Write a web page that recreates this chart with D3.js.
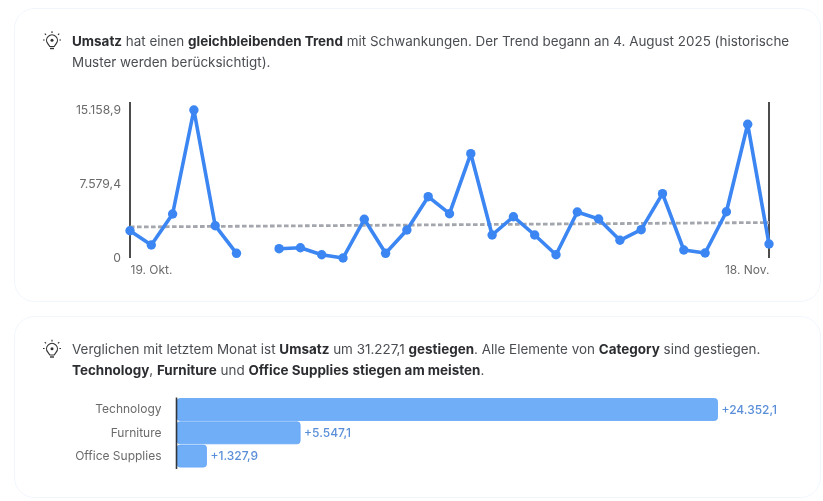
<!DOCTYPE html>
<html>
<head>
<meta charset="utf-8">
<script src="https://cdn.jsdelivr.net/npm/d3@7/dist/d3.min.js"></script>
<style>
html,body{margin:0;padding:0;background:#fff;overflow:hidden}
svg{display:block;font-family:Inter,"Open Sans",sans-serif;filter:blur(.6px)}
</style>
</head>
<body>
<svg id="c" width="823" height="501"></svg>
<script>
const dates = ["2025-10-19","2025-10-20","2025-10-21","2025-10-22","2025-10-23","2025-10-24","2025-10-25","2025-10-26","2025-10-27","2025-10-28","2025-10-29","2025-10-30","2025-10-31","2025-11-01","2025-11-02","2025-11-03","2025-11-04","2025-11-05","2025-11-06","2025-11-07","2025-11-08","2025-11-09","2025-11-10","2025-11-11","2025-11-12","2025-11-13","2025-11-14","2025-11-15","2025-11-16","2025-11-17","2025-11-18"];
const sales = [2796,1332,4507,15158.9,3308,481,null,953,1055,338,0,3964,481,2868,6279,4537,10683,2356,4230,2356,338,4712,3995,1813,2899,6586,819,512,4742,13694,1434];
const trendValues = [3175,3636];
const yTicks = [0,7579.4,15158.9];
const yTickLabels = ["0","7.579,4","15.158,9"];
const xTickLabels = ["19. Okt.","18. Nov."];
const categories = ["Technology","Furniture","Office Supplies"];
const changes = [24352.1,5547.1,1327.9];
const changeLabels = ["+24.352,1","+5.547,1","+1.327,9"];
const text1a = [["Umsatz",1],[" hat einen ",0],["gleichbleibenden Trend",1],[" mit Schwankungen. Der Trend begann an 4. August 2025 (historische",0]];
const text1b = [["Muster werden berücksichtigt).",0]];
const text2a = [["Verglichen mit letztem Monat ist ",0],["Umsatz",1],[" um 31.227,1 ",0],["gestiegen",1],[". Alle Elemente von ",0],["Category",1],[" sind gestiegen.",0]];
const text2b = [["Technology",1],[", ",0],["Furniture",1],[" und ",0],["Office Supplies",1],[" ",0],["stiegen am meisten",1],[".",0]];

const svg = d3.select("#c");
const parse = d3.utcParse("%Y-%m-%d");
const D = dates.map(parse);

// cards
[[14.5,8.5,806,293],[14.5,316.5,806,181]].forEach(r=>{
  svg.append("rect").attr("x",r[0]).attr("y",r[1]).attr("width",r[2]).attr("height",r[3]).attr("rx",20)
    .attr("fill","#fff").attr("stroke","#f1f6fd").attr("stroke-width",1);
});

// texts
function para(segs,x,y){
  const t = svg.append("text").attr("x",x).attr("y",y).attr("font-size",13.45).attr("fill","#4a4d52");
  segs.forEach(s=>t.append("tspan").text(s[0]).style("white-space","pre")
    .attr("font-weight",s[1]?700:400).attr("fill",s[1]?"#2b2d31":"#4a4d52"));
}
para(text1a,72,45.5);para(text1b,72,66.5);
para(text2a,72,353.5);para(text2b,72,374.5);

// icon
function bulb(cx,cy){
  const g = svg.append("g").attr("transform",`translate(${cx},${cy})`).attr("fill","none").attr("stroke","#333").attr("stroke-width",1.2);
  g.append("path").attr("d","M-4.2,3.2 A5.4,5.4 0 1 1 4.2,3.2 L2.2,6 L-2.2,6 Z");
  g.append("circle").attr("cy",-0.3).attr("r",1.5).attr("fill","#333").attr("stroke","none");
  g.append("path").attr("d","M-2,8 L2,8").attr("stroke-width",1.4);
  g.append("path").attr("d","M0,-7.6 V-9.2 M-6,-5.6 L-7.2,-6.8 M6,-5.6 L7.2,-6.8 M-7.4,-0.5 H-9 M7.4,-0.5 H9");
}
bulb(52,40.5);bulb(52,349);

// line chart
const x = d3.scaleUtc().domain([D[0],D[D.length-1]]).range([130,769]);
const y = d3.scaleLinear().domain([0,15978]).range([258,102]);
const pts = sales.map((v,i)=>({d:D[i],v}));

const yAxis = d3.axisLeft(y).tickValues(yTicks).tickSize(0).tickPadding(9)
  .tickFormat((d,i)=>yTickLabels[i]);
const ga = svg.append("g").attr("transform","translate(130,0)").call(yAxis);
ga.select(".domain").attr("stroke","#111").attr("stroke-width",1.5).attr("d","M0,258V102");
ga.selectAll("text").attr("font-size",12.2).attr("fill","#6a6a6a").attr("font-family","Inter,sans-serif");

const xAxis = d3.axisBottom(x).tickValues([D[0],D[D.length-1]]).tickSize(0).tickPadding(7)
  .tickFormat((d,i)=>xTickLabels[i]);
const gx = svg.append("g").attr("transform","translate(0,258)").call(xAxis);
gx.select(".domain").remove();
gx.selectAll("text").attr("font-size",12).attr("fill","#6a6a6a").attr("font-family","Inter,sans-serif")
  .attr("text-anchor",(d,i)=>i?"end":"start");

svg.append("line").attr("x1",769).attr("x2",769).attr("y1",y(15978)).attr("y2",y(0))
  .attr("stroke","#111").attr("stroke-width",1.5);

svg.append("path").attr("fill","none").attr("stroke","#a3a6ad").attr("stroke-width",2.8).attr("stroke-dasharray","4.6 2.4")
  .attr("d",d3.line().x(d=>x(d[0])).y(d=>y(d[1]))([[D[0],trendValues[0]],[D[D.length-1],trendValues[1]]]));

const line = d3.line().defined(d=>d.v!==null).x(d=>x(d.d)).y(d=>y(d.v));
svg.append("path").datum(pts).attr("fill","none").attr("stroke","#3b86f2").attr("stroke-width",3.6)
  .attr("stroke-linejoin","round").attr("d",line);
svg.selectAll("circle.p").data(pts.filter(d=>d.v!==null)).join("circle").attr("class","p")
  .attr("cx",d=>x(d.d)).attr("cy",d=>y(d.v)).attr("r",4.7).attr("fill","#3b86f2");

// bars
const bx = d3.scaleLinear().domain([0,24352.1]).range([177,717.5]);
const by = d3.scaleBand().domain(categories).range([398.5,467.1]).paddingInner(0.056).paddingOuter(0);
svg.selectAll("rect.b").data(categories).join("rect").attr("class","b")
  .attr("x",bx(0)).attr("y",d=>by(d)).attr("height",by.bandwidth())
  .attr("width",(d,i)=>bx(changes[i])-bx(0)).attr("rx",3)
  .attr("fill","#70aef8").attr("stroke","#62a4f6").attr("stroke-width",.8);
const yb = d3.axisLeft(by).tickSize(0).tickPadding(15);
const gb = svg.append("g").attr("transform","translate(176.5,0)").call(yb);
gb.select(".domain").attr("stroke","#33363b").attr("stroke-width",1.6).attr("d","M0,397.5V469");
gb.selectAll("text").attr("font-size",12).attr("fill","#6a6a6a").attr("font-family","Inter,sans-serif");
svg.selectAll("text.v").data(categories).join("text").attr("class","v")
  .attr("x",(d,i)=>bx(changes[i])+4).attr("y",d=>by(d)+by.bandwidth()/2).attr("dy","0.35em")
  .attr("font-size",12).attr("font-weight",500).attr("fill","#5a8fd8").text((d,i)=>changeLabels[i]);
</script>
</body>
</html>
